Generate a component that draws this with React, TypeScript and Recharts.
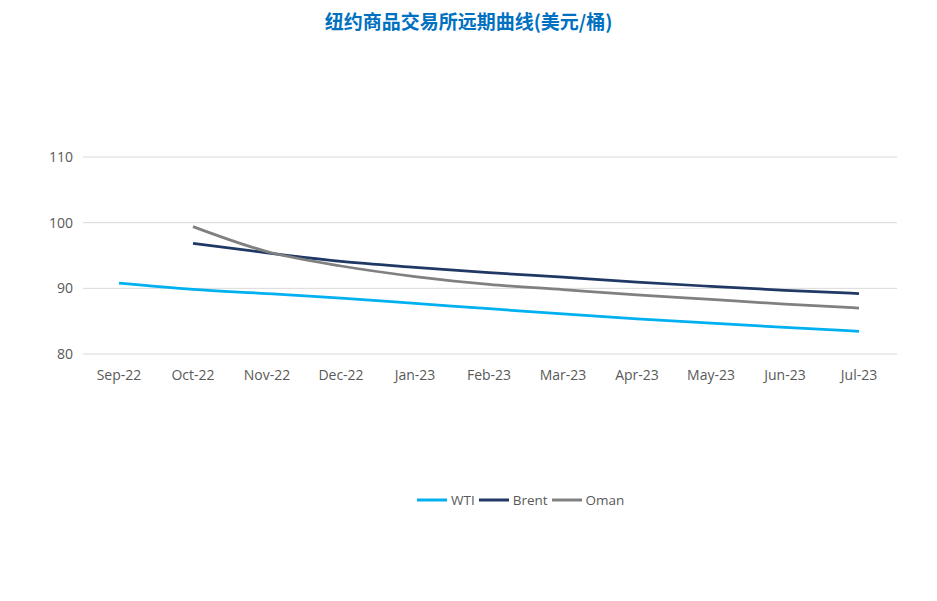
import { LineChart, Line, XAxis, YAxis, CartesianGrid } from 'recharts';

const months = ['Sep-22', 'Oct-22', 'Nov-22', 'Dec-22', 'Jan-23', 'Feb-23', 'Mar-23', 'Apr-23', 'May-23', 'Jun-23', 'Jul-23'];
const wti = [90.8, 89.85, 89.2, 88.5, 87.7, 86.9, 86.1, 85.35, 84.7, 84.05, 83.45];
const brent = [null, 96.85, 95.4, 94.1, 93.2, 92.4, 91.7, 90.95, 90.3, 89.7, 89.2];
const oman = [null, 99.4, 95.6, 93.4, 91.8, 90.6, 89.8, 89.0, 88.3, 87.6, 87.0];
const yTicks = [80, 90, 100, 110];

const data = months.map((m, i) => ({ month: m, WTI: wti[i], Brent: brent[i], Oman: oman[i] }));

const series = [
  { key: 'WTI', color: '#00B0F0' },
  { key: 'Brent', color: '#203864' },
  { key: 'Oman', color: '#808080' },
];

const font = '"Open Sans", "Noto Sans", sans-serif';

function LegendBox() {
  return (
    <div
      style={{
        position: 'absolute',
        top: 491,
        left: 417,
        display: 'flex',
        gap: 4,
        fontFamily: font,
        fontSize: 13.5,
        color: '#595959',
        lineHeight: '18px',
      }}
    >
      {series.map((s) => (
        <div key={s.key} style={{ display: 'flex', alignItems: 'center' }}>
          <svg width={30} height={4} style={{ marginRight: 4 }}>
            <line x1={0} y1={2} x2={30} y2={2} stroke={s.color} strokeWidth={3} />
          </svg>
          <span>{s.key}</span>
        </div>
      ))}
    </div>
  );
}

export default function App() {
  return (
    <div style={{ position: 'absolute', left: 0, top: 0, width: 937, height: 601, background: '#fff' }}>
      <div
        style={{
          position: 'absolute',
          top: 7,
          left: 0,
          width: 937,
          textAlign: 'center',
          fontFamily: '"Noto Sans CJK SC", sans-serif',
          fontWeight: 700,
          fontSize: 19,
          color: '#0070C0',
          lineHeight: '28px',
        }}
      >
        纽约商品交易所远期曲线(美元/桶)
      </div>
      <LineChart width={937} height={601} data={data} margin={{ top: 157, right: 40, bottom: 0, left: 0 }}>
        <CartesianGrid vertical={false} stroke="#D9D9D9" strokeWidth={1} />
        <XAxis
          dataKey="month"
          axisLine={false}
          tickLine={false}
          tickMargin={10}
          height={247}
          interval={0}
          padding={{ left: 36, right: 38 }}
          tick={{ fill: '#595959', fontSize: 14, fontFamily: font }}
        />
        <YAxis
          domain={[80, 110]}
          ticks={yTicks}
          axisLine={false}
          tickLine={false}
          tickMargin={4}
          width={83}
          tick={{ fill: '#595959', fontSize: 14, fontFamily: font }}
        />
        {series.map((s) => (
          <Line
            key={s.key}
            type="monotone"
            dataKey={s.key}
            stroke={s.color}
            strokeWidth={2.75}
            dot={false}
            isAnimationActive={false}
          />
        ))}
      </LineChart>
      <LegendBox />
    </div>
  );
}
